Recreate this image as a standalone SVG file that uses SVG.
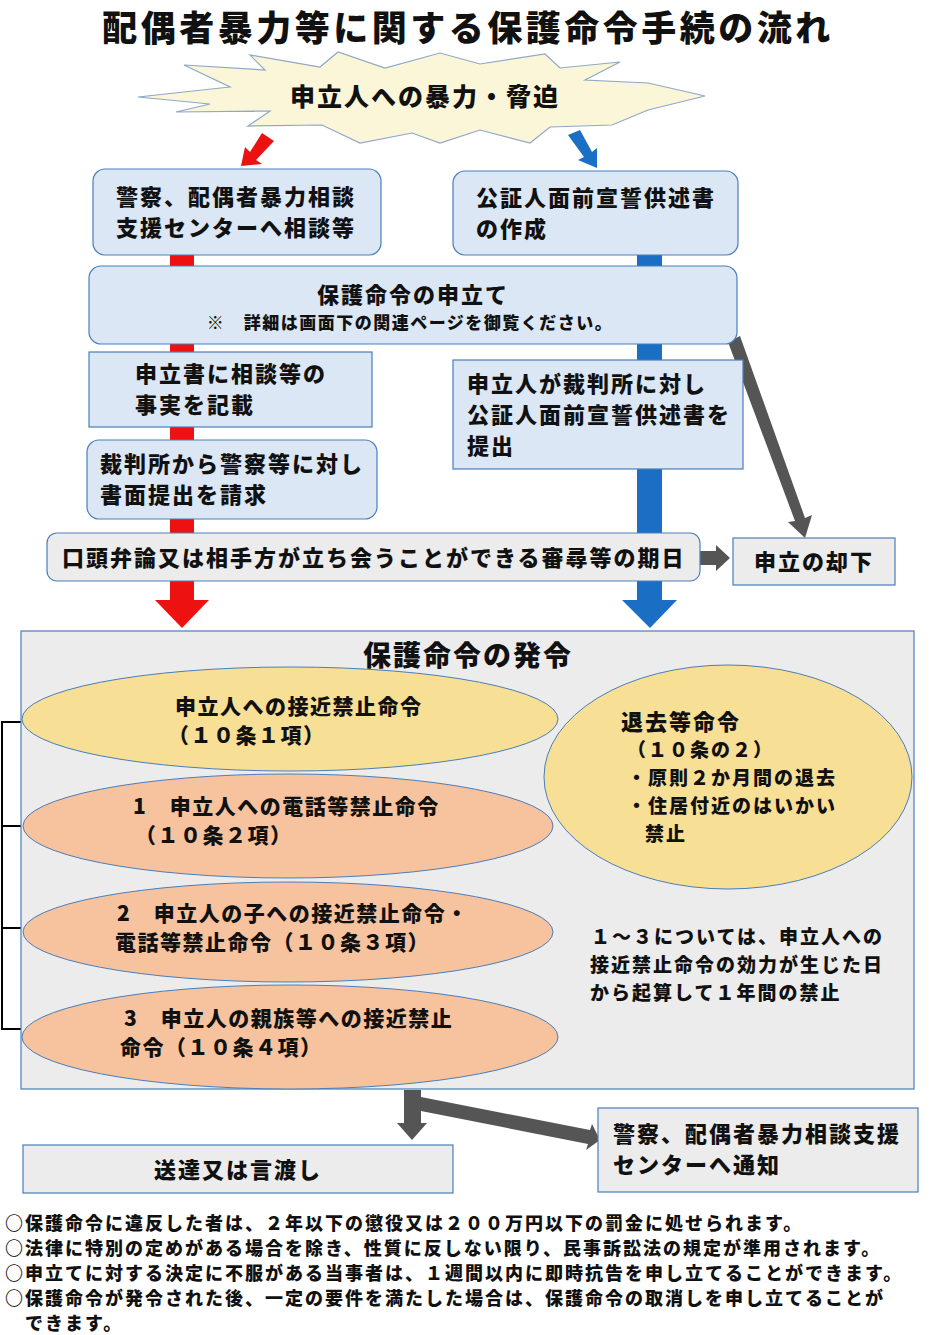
<svg xmlns="http://www.w3.org/2000/svg" width="931" height="1335" viewBox="0 0 931 1335">
<style>
text{font-family:"Noto Sans CJK JP","Noto Sans",sans-serif;font-weight:900;fill:#111}
.bl{fill:#dbe7f4;stroke:#4a7ebb;stroke-width:1.2}
.gr{fill:#ececec;stroke:#4a7ebb;stroke-width:1.2}
.t20{font-size:22px;letter-spacing:2px}
.e{font-size:21px;letter-spacing:1.5px}
.r{font-size:19px;letter-spacing:2px}
.n{font-size:18px;letter-spacing:2px}
</style>
<rect width="931" height="1335" fill="#fff"/>
<text x="468" y="41" font-size="35" letter-spacing="3.5" text-anchor="middle">配偶者暴力等に関する保護命令手続の流れ</text>
<g id="connectors">
<rect x="170" y="250" width="24" height="350" fill="#ee1111"/>
<rect x="637" y="250" width="25" height="350" fill="#1a6fc4"/>
<polygon points="155,600 209,600 182,628" fill="#ee1111"/>
<polygon points="622,600 677,600 650,628" fill="#1a6fc4"/>
<polygon points="262,133 274,141 256,160 262,164 241,166 245,147 250,152" fill="#ee1111"/>
<polygon points="568,135 580,130 592,152 597,148 597,168 578,160 584,157" fill="#1a6fc4"/>
<polygon points="728,342 740,336 805,518 812,515 805,538 788,522 795,521" fill="#555"/>
<polygon points="700,551 716,551 716,545 730,558 716,571 716,565 700,565" fill="#555"/>
<polygon points="404,1090 421,1090 421,1097 590,1130 592,1124 600,1140 586,1150 588,1144 421,1111 421,1123 427,1123 412,1140 397,1123 404,1123" fill="#555"/>
<path d="M22 722H2V1029H22M2 826H22M2 928H22" fill="none" stroke="#000" stroke-width="2"/>
</g>
<g id="n-start">
<polygon points="138,97 230,87 184,65 265,70 250,55 320,67 338,52 385,68 440,53 480,64 545,54 560,68 620,62 585,80 648,83 705,96 648,110 612,125 550,127 530,143 480,130 440,143 412,133 360,143 322,125 248,126 270,111 176,112 210,104" fill="#fbf6d8" stroke="#8fa8c8" stroke-width="1.2"/>
<text x="425" y="106" font-size="25" letter-spacing="2" text-anchor="middle">申立人への暴力・脅迫</text>
</g>
<g id="n-keisatsu"><rect class="bl" x="93" y="169" width="288" height="86" rx="12"/>
<text class="t20" x="116" y="205">警察、配偶者暴力相談</text><text class="t20" x="116" y="236">支援センターへ相談等</text></g>
<g id="n-koshonin"><rect class="bl" x="453" y="171" width="285" height="84" rx="12"/>
<text class="t20" x="476" y="206">公証人面前宣誓供述書</text><text class="t20" x="476" y="237">の作成</text></g>
<g id="n-moushitate"><rect class="bl" x="89" y="266" width="648" height="78" rx="12"/>
<text class="t20" x="413" y="303" text-anchor="middle">保護命令の申立て</text>
<text x="410" y="329" font-size="17" letter-spacing="1.5" text-anchor="middle">※　詳細は画面下の関連ページを御覧ください。</text></g>
<g id="n-kisai"><rect class="bl" x="89" y="352" width="283" height="75"/>
<text class="t20" x="135" y="382">申立書に相談等の</text><text class="t20" x="135" y="413">事実を記載</text></g>
<g id="n-teishutsu"><rect class="bl" x="453" y="360" width="290" height="109"/>
<text class="t20" x="467" y="392">申立人が裁判所に対し</text><text class="t20" x="467" y="423">公証人面前宣誓供述書を</text><text class="t20" x="467" y="454">提出</text></g>
<g id="n-seikyu"><rect class="bl" x="87" y="440" width="290" height="79" rx="12"/>
<text class="t20" x="100" y="472">裁判所から警察等に対し</text><text class="t20" x="100" y="503">書面提出を請求</text></g>
<g id="n-kijitsu"><rect class="gr" x="47" y="533" width="653" height="48" rx="10"/>
<text class="t20" x="62" y="566">口頭弁論又は相手方が立ち会うことができる審尋等の期日</text></g>
<g id="n-kyakka"><rect class="gr" x="733" y="538" width="162" height="47"/>
<text class="t20" x="754" y="570">申立の却下</text></g>
<g id="n-hatsurei"><rect class="gr" x="21" y="631" width="893" height="458"/>
<text x="468" y="666" font-size="28" letter-spacing="2" text-anchor="middle">保護命令の発令</text>
<ellipse cx="290" cy="719" rx="268" ry="52" fill="#f8df96" stroke="#4a7ebb"/>
<text class="e" x="175" y="714">申立人への接近禁止命令</text><text class="e" x="168" y="743">（１０条１項）</text>
<ellipse cx="288" cy="826" rx="265" ry="52" fill="#f6c39e" stroke="#4a7ebb"/>
<text class="e" x="133" y="814">1　申立人への電話等禁止命令</text><text class="e" x="135" y="843">（１０条２項）</text>
<ellipse cx="288" cy="932" rx="265" ry="50" fill="#f6c39e" stroke="#4a7ebb"/>
<text class="e" x="117" y="921">2　申立人の子への接近禁止命令・</text><text class="e" x="115" y="950">電話等禁止命令（１０条３項）</text>
<ellipse cx="290" cy="1037" rx="268" ry="52" fill="#f6c39e" stroke="#4a7ebb"/>
<text class="e" x="124" y="1026">3　申立人の親族等への接近禁止</text><text class="e" x="120" y="1055">命令（１０条４項）</text>
<ellipse cx="728" cy="777" rx="184" ry="112" fill="#f8df96" stroke="#4a7ebb"/>
<text class="t20" x="621" y="730">退去等命令</text>
<text class="r" x="627" y="757">（１０条の２）</text>
<text class="r" x="627" y="785">・原則２か月間の退去</text>
<text class="r" x="627" y="813">・住居付近のはいかい</text>
<text class="r" x="645" y="841">禁止</text>
<text class="r" x="591" y="944">１～３については、申立人への</text>
<text class="r" x="590" y="972">接近禁止命令の効力が生じた日</text>
<text class="r" x="590" y="1000">から起算して１年間の禁止</text></g>
<g id="n-sotatsu"><rect class="gr" x="23" y="1145" width="430" height="48"/>
<text class="t20" x="238" y="1178" text-anchor="middle">送達又は言渡し</text></g>
<g id="n-tsuchi"><rect class="gr" x="598" y="1108" width="320" height="84"/>
<text class="t20" x="613" y="1142">警察、配偶者暴力相談支援</text><text class="t20" x="613" y="1173">センターへ通知</text></g>
<g id="notes">
<text class="n" x="5" y="1230">○保護命令に違反した者は、２年以下の懲役又は２００万円以下の罰金に処せられます。</text>
<text class="n" x="5" y="1255">○法律に特別の定めがある場合を除き、性質に反しない限り、民事訴訟法の規定が準用されます。</text>
<text class="n" x="5" y="1280">○申立てに対する決定に不服がある当事者は、１週間以内に即時抗告を申し立てることができます。</text>
<text class="n" x="5" y="1305">○保護命令が発令された後、一定の要件を満たした場合は、保護命令の取消しを申し立てることが</text>
<text class="n" x="25" y="1330">できます。</text>
</g>
</svg>
